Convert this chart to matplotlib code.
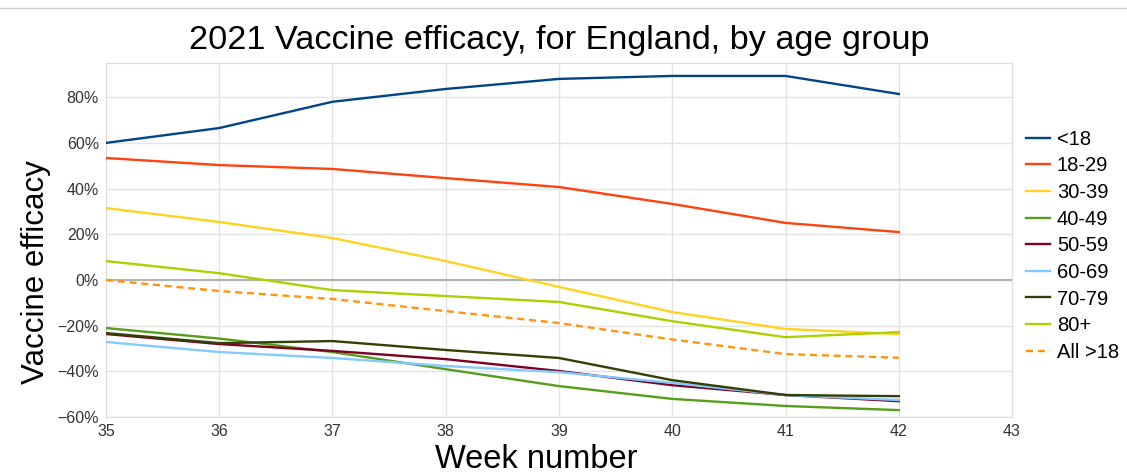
import matplotlib.pyplot as plt
from matplotlib.ticker import PercentFormatter

plt.rcParams['font.family'] = ['Liberation Sans', 'DejaVu Sans']

weeks = [35, 36, 37, 38, 39, 40, 41, 42]

groups = ['<18', '18-29', '30-39', '40-49', '50-59', '60-69', '70-79', '80+', 'All >18']
under18 = [60.0, 66.5, 78.0, 83.6, 88.0, 89.3, 89.3, 81.4]
age18_29 = [53.4, 50.3, 48.6, 44.6, 40.7, 33.3, 25.0, 21.0]
age30_39 = [31.5, 25.4, 18.4, 8.3, -3.0, -14.0, -21.4, -23.6]
age40_49 = [-21.0, -25.6, -31.5, -39.0, -46.4, -52.0, -55.1, -56.9]
age50_59 = [-23.6, -28.0, -31.0, -34.6, -39.8, -46.0, -50.3, -53.0]
age60_69 = [-27.1, -31.5, -34.1, -37.6, -40.3, -45.0, -50.3, -52.5]
age70_79 = [-23.2, -27.6, -26.7, -30.6, -34.1, -43.8, -50.3, -50.8]
age80plus = [8.3, 3.0, -4.4, -7.0, -9.6, -18.0, -25.0, -22.8]
all_over18 = [0.0, -4.8, -8.3, -13.6, -18.8, -26.0, -32.4, -34.0]

series = [under18, age18_29, age30_39, age40_49, age50_59,
          age60_69, age70_79, age80plus, all_over18]
colors = ['#004586', '#ff420e', '#ffd320', '#579d1c', '#7e0021',
          '#83caff', '#314004', '#aecf00', '#ff950e']

fig = plt.figure(figsize=(11.27, 4.73), dpi=100)
ax = fig.add_axes([0.094, 0.118, 0.804, 0.749])

ax.axhline(0, color='#b3b3b3', lw=1.5, zorder=1)
for name, vals, col in zip(groups, series, colors):
    if name == 'All >18':
        ax.plot(weeks, [v / 100 for v in vals], color=col, lw=1.7, ls=(0, (3, 2)), label=name, zorder=3)
    else:
        ax.plot(weeks, [v / 100 for v in vals], color=col, lw=1.7, label=name, zorder=3)

ax.set_xlim(35, 43)
ax.set_ylim(-0.6, 0.95)
ax.set_xticks(range(35, 44))
ax.set_yticks([-0.6, -0.4, -0.2, 0, 0.2, 0.4, 0.6, 0.8])
ax.yaxis.set_major_formatter(PercentFormatter(1.0, decimals=0))
ax.grid(True, color='#e3e3e3', lw=1)
ax.set_axisbelow(True)
for s in ax.spines.values():
    s.set_color('#dddddd')
ax.tick_params(length=0, labelsize=11.5, colors='#333333', pad=5)

ax.set_title('2021 Vaccine efficacy, for England, by age group', fontsize=24.7, pad=10)
ax.set_xlabel('Week number', fontsize=23.5, labelpad=0)
ax.set_ylabel('Vaccine efficacy', fontsize=22.5)
ax.yaxis.set_label_coords(-0.061, 0.41)
ax.xaxis.set_label_coords(0.475, -0.075, transform=ax.transAxes)
ax.xaxis.label.set_va('top')

ax.legend(loc='center left', bbox_to_anchor=(0.995, 0.484), frameon=False,
          fontsize=14.5, handlelength=1.2, handletextpad=0.35, labelspacing=0.38)

fig.add_artist(plt.Line2D([0, 1], [0.983, 0.983], color='#d0d0d0', lw=1))

fig.savefig('out.png', dpi=100, facecolor='white')
